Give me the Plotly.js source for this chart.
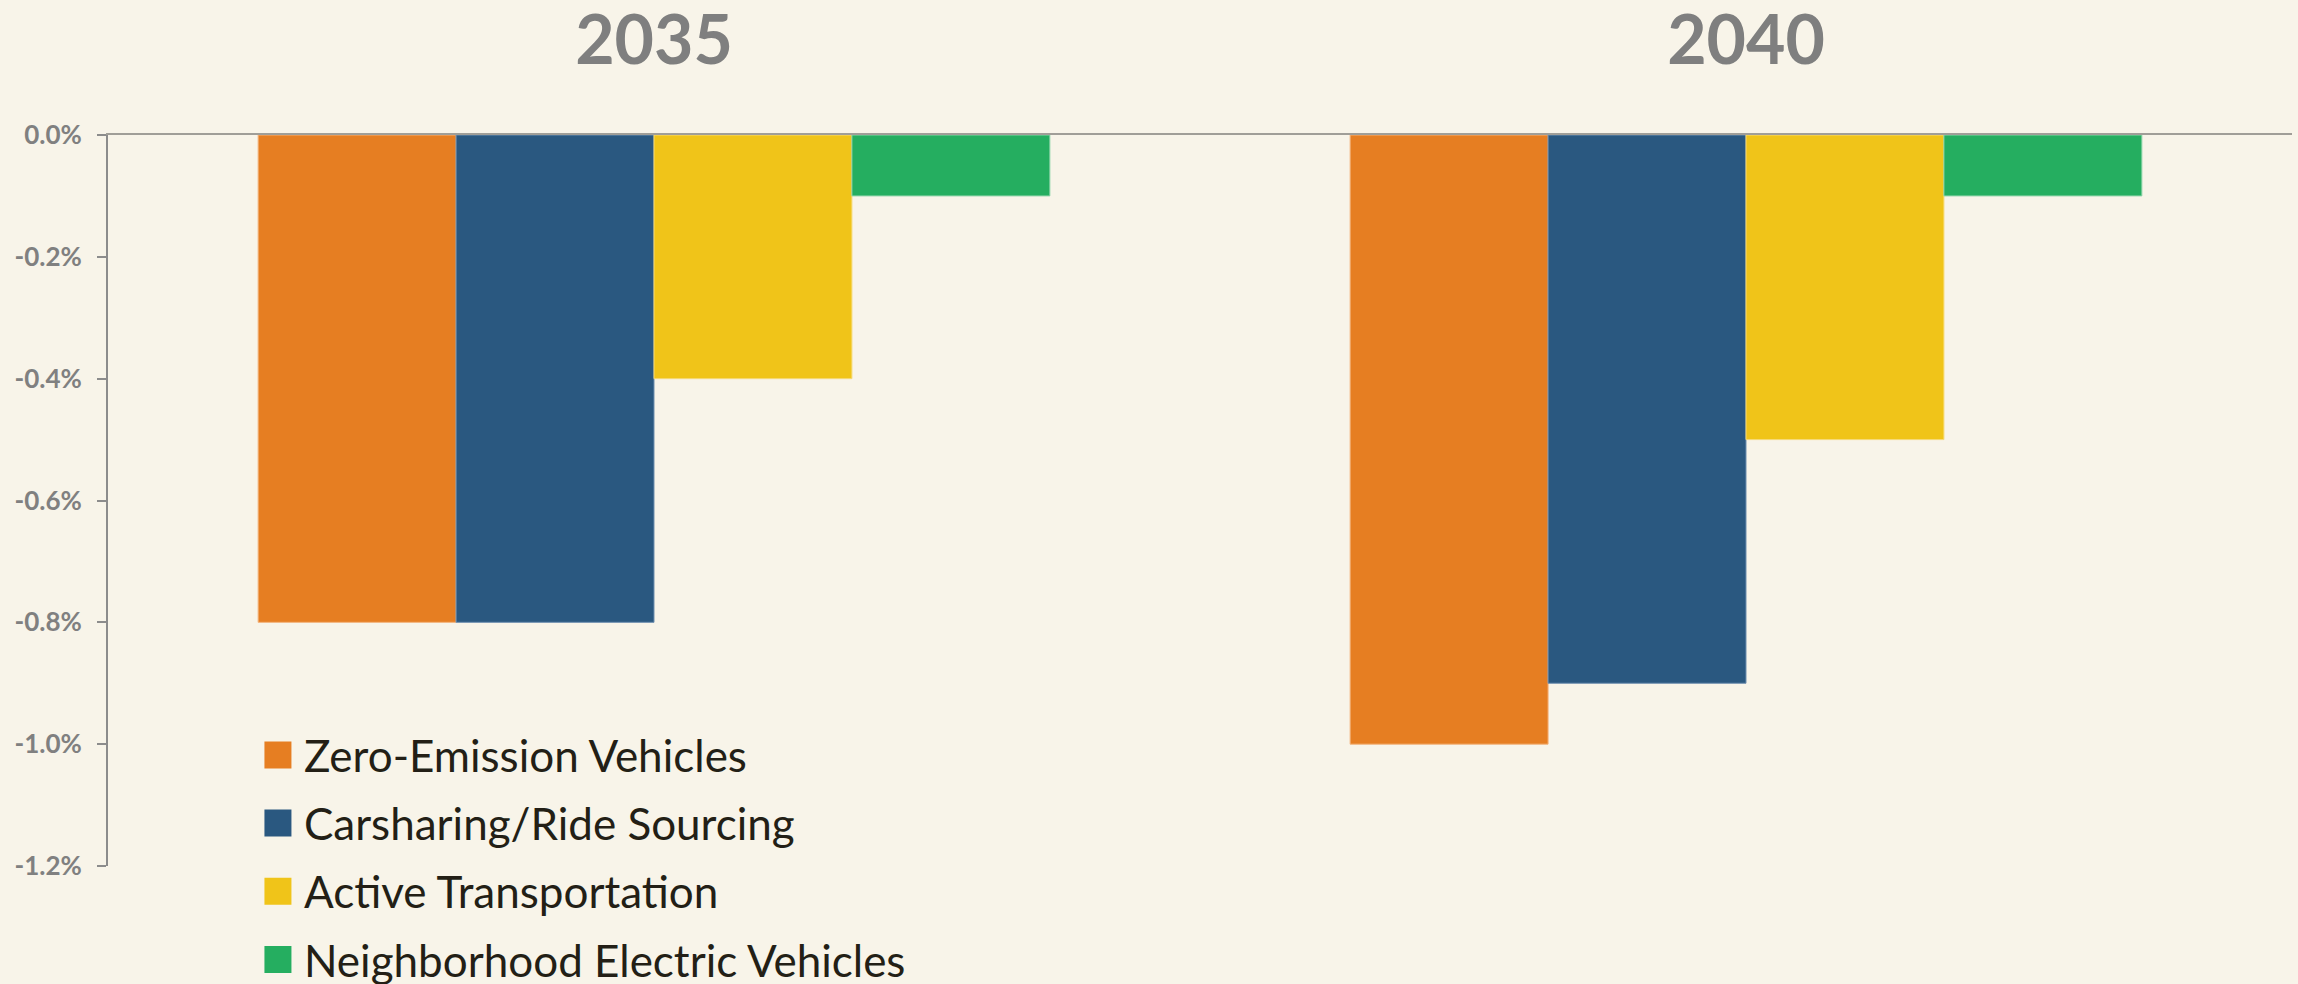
<!DOCTYPE html>
<html>
<head>
<meta charset="utf-8">
<script src="https://cdn.plot.ly/plotly-3.0.1.min.js"></script>
<style>
  html, body { margin: 0; padding: 0; background: #F8F4E9; }
  #chart { width: 2298px; height: 984px; }
</style>
</head>
<body>
<div id="chart"></div>
<script>
// ---- data ----
const years = ['2035', '2040'];
const seriesNames = ['Zero-Emission Vehicles', 'Carsharing/Ride Sourcing', 'Active Transportation', 'Neighborhood Electric Vehicles'];
const zeroEmission = [-0.8, -1.0];
const carsharing = [-0.8, -0.9];
const activeTransport = [-0.4, -0.5];
const neighborhoodEV = [-0.1, -0.1];
const tickVals = [0, -0.2, -0.4, -0.6, -0.8, -1.0, -1.2];
const tickLabels = ['0.0%', '-0.2%', '-0.4%', '-0.6%', '-0.8%', '-1.0%', '-1.2%'];

const colors = ['#E67E22', '#2A5880', '#F0C419', '#25AE60'];
const edge = ['#F3B27A', '#6F8FB0', '#F6DA78', '#8CD3A8'];
const values = [zeroEmission, carsharing, activeTransport, neighborhoodEV];

const traces = values.map((v, i) => ({
  type: 'bar',
  name: seriesNames[i],
  x: years,
  y: v,
  marker: { color: colors[i], line: { color: edge[i], width: 1 } },
  legendgroup: 'g' + i,
  hoverinfo: 'skip'
}));

const layout = {
  width: 2298,
  height: 984,
  paper_bgcolor: '#F8F4E9',
  plot_bgcolor: '#F8F4E9',
  margin: { l: 108, r: 6, t: 135, b: 118, pad: 0, autoexpand: false },
  barmode: 'group',
  bargap: 0.275,
  bargroupgap: 0,
  font: { family: 'Lato, "Open Sans", sans-serif' },
  xaxis: {
    type: 'category',
    side: 'top',
    range: [-0.5, 1.5],
    showline: true,
    linecolor: '#A09E98',
    linewidth: 2,
    ticks: '',
    showgrid: false,
    zeroline: false,
    automargin: false,
    ticklabelstandoff: 42,
    tickfont: { family: 'Lato, sans-serif', size: 68, color: '#7F7F7F', weight: 'bold' }
  },
  yaxis: {
    range: [-1.2, 0],
    tickvals: tickVals,
    ticktext: tickLabels,
    showline: true,
    linecolor: '#8C8C8C',
    linewidth: 2,
    ticks: 'outside',
    ticklen: 9,
    tickwidth: 2,
    tickcolor: '#8C8C8C',
    ticklabelstandoff: 10,
    showgrid: false,
    zeroline: false,
    automargin: false,
    tickfont: { family: 'Lato, sans-serif', size: 26, color: '#808080', weight: 'bold' }
  },
  showlegend: true,
  legend: {
    x: 0.0714,
    xanchor: 'left',
    y: 0.200,
    yanchor: 'top',
    orientation: 'v',
    bgcolor: 'rgba(0,0,0,0)',
    tracegroupgap: 8,
    font: { family: 'Lato, sans-serif', size: 44, color: '#231F16' },
    traceorder: 'grouped'
  }
};

function enlargeLegendSymbols() {
  document.querySelectorAll('#chart .legend .legendpoints path').forEach(p => {
    p.setAttribute('d', 'M7.5,13.5H-19.5V-13.5H7.5Z');
    p.style.strokeWidth = '0px';
  });
}

Plotly.newPlot('chart', traces, layout, { staticPlot: true, displayModeBar: false })
  .then(gd => {
    enlargeLegendSymbols();
    gd.on('plotly_afterplot', enlargeLegendSymbols);
  });
</script>
</body>
</html>
